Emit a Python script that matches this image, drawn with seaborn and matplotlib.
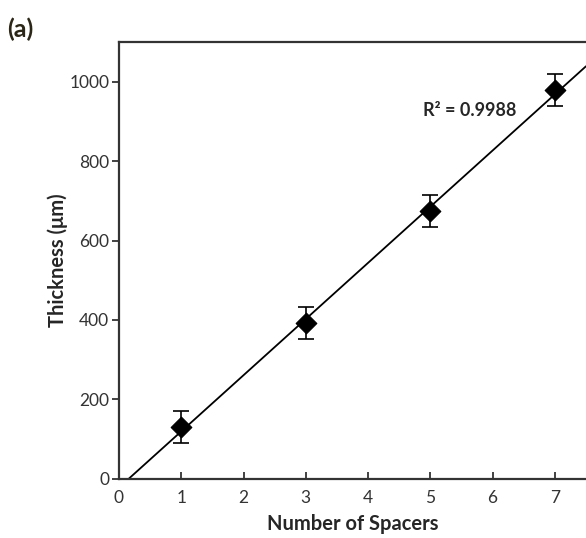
import numpy as np
import pandas as pd
import matplotlib
matplotlib.use("Agg")
import matplotlib.pyplot as plt
import seaborn as sns

espacadores = [1, 3, 5, 7]
espessura = [130, 392, 674, 979]
erro = [40, 40, 41, 40]
yticks = [0, 200, 400, 600, 800, 1000]
xticks = [0, 1, 2, 3, 4, 5, 6, 7]

df = pd.DataFrame({"spacers": espacadores, "thickness": espessura, "err": erro})

sns.set_style("ticks")
plt.rcParams["font.family"] = ["Lato", "DejaVu Sans"]

fig = plt.figure(figsize=(5.86, 5.38), dpi=100)
ax = fig.add_axes([0.203, 0.11, 0.797, 0.812])
ax.set_xlim(0, 7.5)
ax.set_ylim(0, 1100)

# linha de tendencia (regressao linear)
sns.regplot(data=df, x="spacers", y="thickness", scatter=False, ci=None,
            truncate=False, color="black", line_kws={"linewidth": 1.3}, ax=ax)

ax.errorbar(df["spacers"], df["thickness"], yerr=df["err"], fmt="none",
            ecolor="black", elinewidth=1.2, capsize=5.5, capthick=1.2, zorder=3)
sns.scatterplot(data=df, x="spacers", y="thickness", marker="D", s=110,
                color="black", edgecolor="black", ax=ax, zorder=4)

ax.set_xlim(0, 7.5)
ax.set_ylim(0, 1100)
ax.set_xticks(xticks)
ax.set_yticks(yticks)
ax.tick_params(axis="x", direction="in", length=5, width=1.3, labelsize=12.5, pad=8, colors="#333333")
ax.tick_params(axis="y", direction="out", length=5, width=1.3, labelsize=12.5, pad=2, colors="#333333")
for lado in ["left", "bottom", "top"]:
    ax.spines[lado].set_linewidth(1.6)
    ax.spines[lado].set_color("#333333")
ax.spines["right"].set_visible(False)

ax.set_xlabel("Number of Spacers", fontsize=14.5, fontweight="bold", labelpad=6)
ax.set_ylabel("Thickness (μm)", fontsize=14.5, fontweight="bold", labelpad=1)
ax.text(4.88, 928, "R² = 0.9988", fontsize=13, fontweight="bold", va="center")
fig.text(0.012, 0.945, "(a)", fontsize=18, fontweight="bold", color="#2b2616", va="center")

fig.savefig("out.png", dpi=100)
